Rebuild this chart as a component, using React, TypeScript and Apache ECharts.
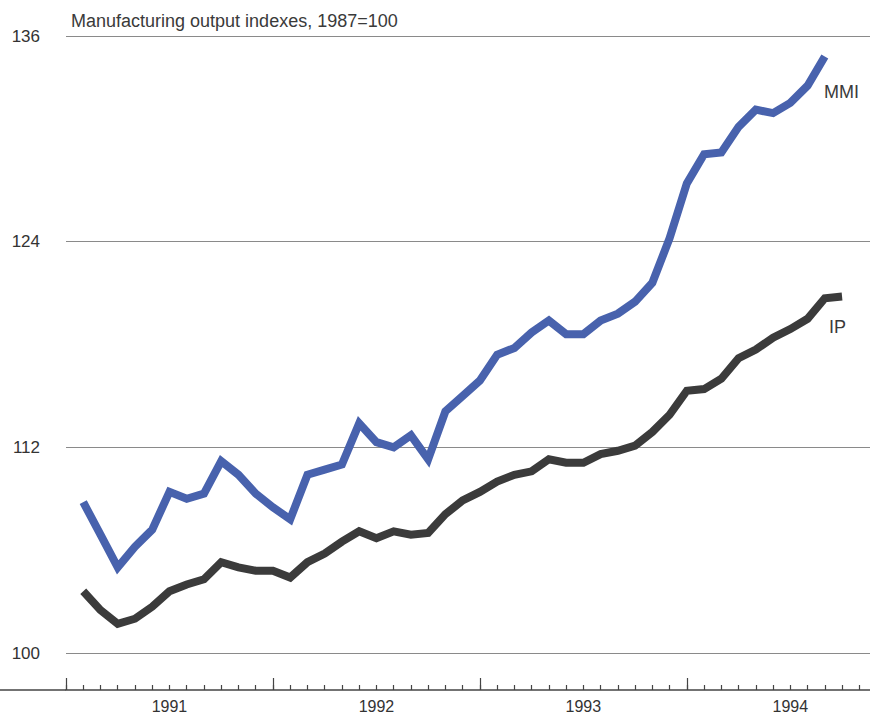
import { useEffect, useRef } from "react";
import * as echarts from "echarts";

// Month index 0 = January 1991 (first major tick); data begin at month 1.
const yearLabels = ["1991", "1992", "1993", "1994"];
const yTickValues = [100, 112, 124, 136];
const mmiStart = 1;
const mmiValues = [
  108.8, 106.9, 105.0, 106.2, 107.2, 109.4, 109.0, 109.3, 111.2, 110.4,
  109.3, 108.5, 107.8, 110.4, 110.7, 111.0, 113.4, 112.3, 112.0, 112.7,
  111.3, 114.1, 115.0, 115.9, 117.4, 117.8, 118.7, 119.4, 118.6, 118.6,
  119.4, 119.8, 120.5, 121.6, 124.2, 127.4, 129.1, 129.2, 130.7, 131.7,
  131.5, 132.1, 133.1, 134.8,
];
const ipStart = 1;
const ipValues = [
  103.6, 102.5, 101.7, 102.0, 102.7, 103.6, 104.0, 104.3, 105.3, 105.0,
  104.8, 104.8, 104.4, 105.3, 105.8, 106.5, 107.1, 106.7, 107.1, 106.9,
  107.0, 108.1, 108.9, 109.4, 110.0, 110.4, 110.6, 111.3, 111.1, 111.1,
  111.6, 111.8, 112.1, 112.9, 113.9, 115.3, 115.4, 116.0, 117.2, 117.7,
  118.4, 118.9, 119.5, 120.7, 120.8,
];

const FONT = "'Liberation Sans', Arial, Helvetica, sans-serif";

export default function App() {
  const ref = useRef<HTMLDivElement>(null);
  useEffect(() => {
    document.body.style.margin = "0";
    const chart = echarts.init(ref.current!, null, { renderer: "svg" });
    const xBase = {
      type: "value",
      min: 0,
      max: 47.2,
      position: "bottom",
      offset: 37,
      splitLine: { show: false },
    };
    chart.setOption({
      animation: false,
      title: {
        text: "Manufacturing output indexes, 1987=100",
        left: 66,
        top: 7,
        textStyle: { fontFamily: FONT, fontSize: 18, fontWeight: "normal", color: "#3a3a3a" },
      },
      grid: { left: 66, right: -10, top: 36, bottom: 65, outerBoundsMode: "none", containLabel: false },
      xAxis: [
        {
          ...xBase,
          interval: 1,
          axisLine: { show: true, lineStyle: { color: "#444", width: 1.5 } },
          axisTick: { show: true, inside: true, length: 5, lineStyle: { color: "#444", width: 1.2 } },
          axisLabel: { show: false },
        },
        {
          ...xBase,
          interval: 12,
          axisLine: { show: false },
          axisTick: { show: true, inside: true, length: 12, lineStyle: { color: "#444", width: 1.2 } },
          axisLabel: { show: false },
        },
        {
          ...xBase,
          interval: 6,
          axisLine: { show: false },
          axisTick: { show: false },
          axisLabel: {
            show: true,
            margin: 8,
            fontFamily: FONT,
            fontSize: 16,
            color: "#333",
            formatter: (v: number) => {
              const k = (v - 6) / 12;
              return Number.isInteger(k) && yearLabels[k] ? yearLabels[k] : "";
            },
          },
        },
      ],
      yAxis: {
        type: "value",
        min: yTickValues[0],
        max: yTickValues[yTickValues.length - 1],
        interval: yTickValues[1] - yTickValues[0],
        axisLine: { show: false },
        axisTick: { show: false },
        axisLabel: { margin: 26, fontFamily: FONT, fontSize: 17, color: "#333" },
        splitLine: { lineStyle: { color: "#8a8a8a", width: 1 } },
      },
      series: [
        {
          name: "MMI",
          type: "line",
          xAxisIndex: 0,
          symbol: "none",
          data: mmiValues.map((v, i) => [mmiStart + i, v]),
          lineStyle: { color: "#4862ad", width: 8, cap: "butt", join: "miter" },
        },
        {
          name: "IP",
          type: "line",
          xAxisIndex: 0,
          symbol: "none",
          data: ipValues.map((v, i) => [ipStart + i, v]),
          lineStyle: { color: "#3b3b3b", width: 8, cap: "butt", join: "miter" },
        },
      ],
      graphic: [
        {
          type: "line",
          shape: { x1: 0, y1: 690, x2: 66, y2: 690 },
          style: { stroke: "#444", lineWidth: 1.5 },
        },
        {
          type: "text",
          x: 824,
          y: 92,
          style: { text: "MMI", fontFamily: FONT, fontSize: 18, fill: "#3a3a3a", verticalAlign: "middle" },
        },
        {
          type: "text",
          x: 829,
          y: 327,
          style: { text: "IP", fontFamily: FONT, fontSize: 18, fill: "#3a3a3a", verticalAlign: "middle" },
        },
      ],
    });
    return () => chart.dispose();
  }, []);
  return <div ref={ref} style={{ width: 870, height: 718 }} />;
}
